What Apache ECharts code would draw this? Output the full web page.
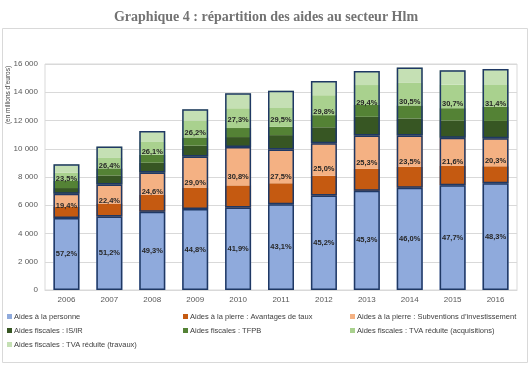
<!DOCTYPE html>
<html><head><meta charset="utf-8">
<script src="https://cdn.jsdelivr.net/npm/echarts@6/dist/echarts.min.js"></script>
<style>html,body{margin:0;padding:0;background:#fff}#c{width:532px;height:368px}</style>
</head><body><div id="c"></div>
<script>
var years = ['2006','2007','2008','2009','2010','2011','2012','2013','2014','2015','2016'];
var personne = [5091,5197,5546,5734,5837,6077,6690,7022,7245,7417,7559];
var taux     = [790,920,1200,1490,1570,1480,1400,1550,1470,1370,1200];
var subv     = [937,1354,1568,2222,2720,2398,2300,2372,2231,1989,1977];
var isir     = [400,640,696,774,700,1010,1130,1317,1200,1224,1234];
var tfpb     = [500,500,560,580,640,590,860,840,920,870,1005];
var tvaAcq   = [600,780,910,1200,1400,1330,1410,1410,1630,1670,1540];
var tvaTrav  = [591,760,770,800,1063,1230,1010,990,1054,1010,1135];
var pctPersonne = ['57,2%','51,2%','49,3%','44,8%','41,9%','43,1%','45,2%','45,3%','46,0%','47,7%','48,3%'];
var pctPierre   = ['19,4%','22,4%','24,6%','29,0%','30,8%','27,5%','25,0%','25,3%','23,5%','21,6%','20,3%'];
var pctFiscal   = ['23,5%','26,4%','26,1%','26,2%','27,3%','29,5%','29,8%','29,4%','30,5%','30,7%','31,4%'];
var yTicks = [0,2000,4000,6000,8000,10000,12000,14000,16000];

var names = ['Aides à la personne','Aides à la pierre : Avantages de taux','Aides à la pierre : Subventions d\u2019investissement',
  'Aides fiscales : IS/IR','Aides fiscales : TFPB','Aides fiscales : TVA réduite (acquisitions)','Aides fiscales : TVA réduite (travaux)'];
var colors = ['#8FAADC','#C55A11','#F4B183','#375623','#548235','#A9D18E','#C5E0B4'];
var comps = [personne,taux,subv,isir,tfpb,tvaAcq,tvaTrav];
var FONT = '"Liberation Sans",sans-serif';

var series = comps.map(function(d,i){
  return {name:names[i],type:'bar',stack:'a',data:d,barWidth:26,barGap:'-100%',
    itemStyle:{color:colors[i]},silent:true};
});
var pierre = taux.map(function(v,i){return v+subv[i];});
var fiscal = isir.map(function(v,i){return v+tfpb[i]+tvaAcq[i]+tvaTrav[i];});
var groups = [[personne,pctPersonne],[pierre,pctPierre],[fiscal,pctFiscal]];
groups.forEach(function(g,k){
  series.push({name:'outline'+k,type:'bar',stack:'o',data:g[0],barWidth:26,barGap:'-100%',z:5,silent:true,
    itemStyle:{color:'rgba(0,0,0,0)',borderColor:'#1F3864',borderWidth:1.5},
    label:{show:true,position:'inside',fontFamily:FONT,fontSize:7.5,fontWeight:'bold',color:'#262626',
      formatter:function(p){return g[1][p.dataIndex];}}});
});

function legendCol(left,data){
  return {left:left,top:312,orient:'vertical',itemWidth:5,itemHeight:5,itemGap:5,icon:'rect',padding:[0,0,0,0],
    selectedMode:false,data:data,textStyle:{fontFamily:FONT,fontSize:7.5,color:'#404040',padding:[0,0,0,-3],lineHeight:9}};
}

var chart = echarts.init(document.getElementById('c'));
chart.setOption({
  animation:false,
  title:{text:'Graphique 4 : répartition des aides au secteur Hlm',left:'center',top:5,
    textStyle:{fontFamily:'"Liberation Serif",serif',fontSize:14,fontWeight:'bold',color:'#737373'}},
  graphic:[
    {type:'rect',shape:{x:2.5,y:28.5,width:525,height:334},style:{fill:'none',stroke:'#D9D9D9',lineWidth:1},silent:true},
    {type:'text',x:8,y:95,rotation:Math.PI/2,style:{text:'(en millions d\u2019euros)',fontFamily:FONT,fontSize:6.5,fill:'#404040',align:'center',verticalAlign:'middle'}}
  ],
  legend:[legendCol(7,[names[0],names[3],names[6]]),legendCol(183,[names[1],names[4]]),legendCol(350,[names[2],names[5]])],
  grid:{left:45,right:15,top:64,bottom:78,show:true,borderColor:'#D9D9D9',borderWidth:1},
  xAxis:{type:'category',data:years,axisTick:{show:false},axisLine:{lineStyle:{color:'#D9D9D9'}},
    axisLabel:{fontFamily:FONT,fontSize:8,color:'#595959',margin:6}},
  yAxis:{type:'value',min:0,max:16000,interval:2000,splitLine:{lineStyle:{color:'#D9D9D9'}},
    axisLabel:{fontFamily:FONT,fontSize:8,color:'#595959',margin:7,
      formatter:function(v){return yTicks.indexOf(v)<0?'':(v>=1000?Math.floor(v/1000)+' '+String(v%1000).padStart(3,'0'):String(v));}}},
  series:series
});
</script></body></html>
